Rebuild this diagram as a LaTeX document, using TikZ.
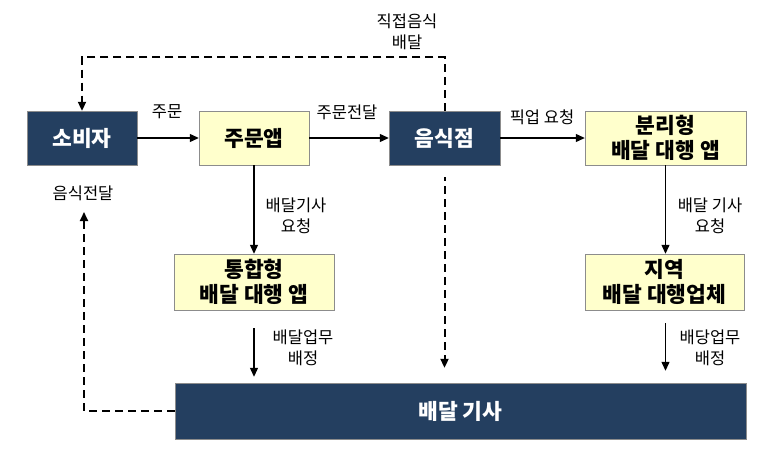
\documentclass[tikz,border=0pt]{standalone}
\usepackage{fontspec}
\setmainfont{Noto Sans CJK KR}
\usetikzlibrary{arrows.meta}
\definecolor{navy}{HTML}{243F60}
\definecolor{paleyellow}{HTML}{FFFFCC}
\definecolor{edgegray}{HTML}{8C8C8C}
\tikzset{
  darkbox/.style={draw=edgegray,fill=navy,text=white,align=center,inner sep=0pt,
    font=\fontsize{21.5}{25}\selectfont\bfseries},
  appbox/.style={draw=edgegray,fill=paleyellow,text=black,align=center,inner sep=0pt,
    font=\fontsize{21.5}{25}\selectfont\bfseries},
  lbl/.style={align=center,inner sep=0pt,font=\fontsize{16.5}{21}\selectfont},
  arr/.style={line width=1.2pt,-{Triangle[length=9pt,width=8pt]}},
  darr/.style={line width=2pt,dash pattern=on 8pt off 5pt,-{Triangle[length=9pt,width=8pt]}}
}

\begin{document}
\begin{tikzpicture}[x=1pt,y=-1pt]
        \useasboundingbox (0,0) rectangle (773,460);
        % The boxes
        \node[darkbox,minimum width=110pt,minimum height=54pt] (consumer) at (82,138) {소비자};
        \node[appbox,minimum width=110pt,minimum height=54pt] (orderapp) at (254,138) {주문앱};
        \node[darkbox,minimum width=111pt,minimum height=54pt] (restaurant) at (444.5,138) {음식점};
        \node[appbox,minimum width=161pt,minimum height=54pt] (splitapp) at (665.5,138) {분리형\\배달 대행 앱};
        \node[appbox,minimum width=160pt,minimum height=56pt] (unifiedapp) at (254,282) {통합형\\배달 대행 앱};
        \node[appbox,minimum width=159pt,minimum height=56pt] (agency) at (664.5,282) {지역\\배달 대행업체};
        \node[darkbox,minimum width=571pt,minimum height=56pt] (rider) at (460.5,411) {배달 기사};

        % Free ends
        \coordinate (topleft) at (82,57);
        \coordinate (topright) at (444.5,57);
        \coordinate (riderleft) at (84,411);
        \coordinate (backtip) at (84,212);

        % Solid arrows
        \draw[arr] (consumer) -- (orderapp);
        \draw[arr] (orderapp) -- (restaurant);
        \draw[arr] (restaurant) -- (splitapp);
        \draw[arr] (orderapp.south) -- (unifiedapp.north);
        \draw[arr] (splitapp.south) -- (agency.north -| splitapp.south);
        \draw[arr] ([yshift=-18pt]unifiedapp.south) -- ([yshift=6pt]rider.north -| unifiedapp.south);
        \draw[arr] ([yshift=-13pt]agency.south -| splitapp.south) -- ([yshift=12pt]rider.north -| splitapp.south);

        % Dashed arrows
        \draw[darr] (restaurant.north) -- (topright) -- (topleft) -- (consumer.north);
        \draw[darr,dash phase=4pt] ([yshift=-12pt]restaurant.south) -- ([yshift=15pt]rider.north -| restaurant.south);
        \draw[darr] (rider.west) -- (riderleft) -- (backtip);

        % Labels
        \node[lbl] (l-order) at (167,112) {주문};
        \node[lbl] (l-pass) at (347,112) {주문전달};
        \node[lbl] (l-direct) at (407,32) {직접음식\\배달};
        \node[lbl] (l-pickup) at (542,117) {픽업 요청};
        \node[lbl] (l-req1) at (296,216) {배달기사\\요청};
        \node[lbl] (l-req2) at (710,216) {배달 기사\\요청};
        \node[lbl] (l-assign1) at (303,348) {배달업무\\배정};
        \node[lbl] (l-assign2) at (710,348) {배당업무\\배정};
        \node[lbl] (l-food) at (83,193) {음식전달};
    \end{tikzpicture}
\end{document}
